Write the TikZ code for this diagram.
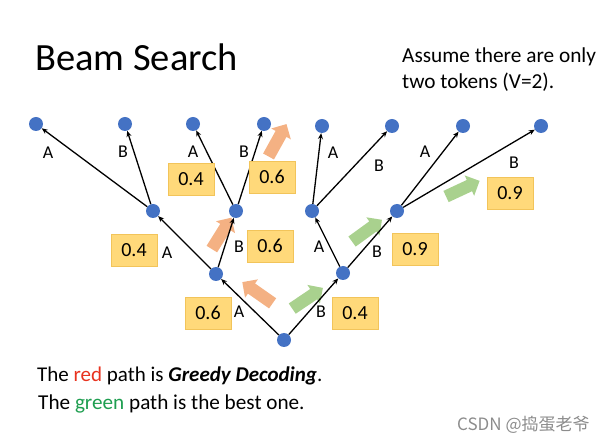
\documentclass[tikz,border=0pt]{standalone}
\usepackage{fontspec}
\setmainfont{Carlito}
\newfontfamily\cjk{Noto Sans CJK SC}
\usetikzlibrary{arrows.meta,shapes.arrows}
\definecolor{bs-dot}{HTML}{4472C4}
\definecolor{bs-box}{HTML}{FFD97A}
\definecolor{bs-boxline}{HTML}{F2C45A}
\definecolor{bs-orange}{HTML}{F4B183}
\definecolor{bs-green}{HTML}{A9D18E}
\definecolor{bs-red}{HTML}{E8321E}
\definecolor{bs-greentext}{HTML}{1E9E50}

\begin{document}
\begin{tikzpicture}[x=1pt,y=-1pt,
  dot/.style={circle, fill=bs-dot, inner sep=0pt, minimum size=14pt},
  edge/.style={line width=1.3pt, -{Stealth[length=6pt,width=5pt]}},
  lbl/.style={font=\fontsize{18}{18}\selectfont, inner sep=0pt},
  prob/.style={fill=bs-box, draw=bs-boxline, line width=0.8pt, minimum width=46pt, minimum height=32pt, inner sep=0pt, font=\fontsize{20}{20}\selectfont},
  fatarrow/.style={single arrow, draw=none, inner sep=6pt, single arrow head extend=5pt, single arrow head indent=0pt, minimum height=37pt}]
\useasboundingbox (0,0) rectangle (608,443);

% block arrows
\node[fatarrow, fill=bs-orange, rotate=145] (o1) at (260,294.5) {};
\node[fatarrow, fill=bs-orange, rotate=58] (o2) at (220,236) {};
\node[fatarrow, fill=bs-orange, rotate=61] (o3) at (276,143) {};
\node[fatarrow, fill=bs-green, rotate=34] (g1) at (305,300) {};
\node[fatarrow, fill=bs-green, rotate=36] (g2) at (364.5,232.5) {};
\node[fatarrow, fill=bs-green, rotate=25] (g3) at (460,190) {};

% tree
\node[dot] (r) at (284,340) {};
\node[dot] (a) at (216,274) {};
\node[dot] (b) at (343,273) {};
\node[dot] (aa) at (153,211) {};
\node[dot] (ab) at (236,211) {};
\node[dot] (ba) at (312,211) {};
\node[dot] (bb) at (397,211) {};
\node[dot] (aaa) at (36,124) {};
\node[dot] (aab) at (125,124) {};
\node[dot] (aba) at (193,124) {};
\node[dot] (abb) at (264,124) {};
\node[dot] (baa) at (322,126) {};
\node[dot] (bab) at (392,126) {};
\node[dot] (bba) at (463,126) {};
\node[dot] (bbb) at (541,126) {};

\draw[edge] (r) -- (a);
\draw[edge] (r) -- (b);
\draw[edge] (a) -- (aa);
\draw[edge] (a) -- (ab);
\draw[edge] (b) -- (ba);
\draw[edge] (b) -- (bb);
\draw[edge] (aa) -- (aaa);
\draw[edge] (aa) -- (aab);
\draw[edge] (ab) -- (aba);
\draw[edge] (ab) -- (abb);
\draw[edge] (ba) -- (baa);
\draw[edge] (ba) -- (bab);
\draw[edge] (bb) -- (bba);
\draw[edge] (bb) -- (bbb);

% token labels
\node[lbl] (la) at (239,312) {A};
\node[lbl] (lb) at (321,312) {B};
\node[lbl] (laa) at (167,253) {A};
\node[lbl] (lab) at (239,247) {B};
\node[lbl] (lba) at (319,247) {A};
\node[lbl] (lbb) at (377,252) {B};
\node[lbl] (laaa) at (48,153) {A};
\node[lbl] (laab) at (123,152) {B};
\node[lbl] (laba) at (193,152) {A};
\node[lbl] (labb) at (244,152) {B};
\node[lbl] (lbaa) at (333,153) {A};
\node[lbl] (lbab) at (379,166) {B};
\node[lbl] (lbba) at (425,152) {A};
\node[lbl] (lbbb) at (514,163) {B};

% probabilities
\node[prob] (pa) at (208,313) {0.6};
\node[prob] (pb) at (355,313) {0.4};
\node[prob] (paa) at (134,250) {0.4};
\node[prob] (pab) at (270,246) {0.6};
\node[prob] (pbb) at (415,249) {0.9};
\node[prob] (paba) at (191,179) {0.4};
\node[prob] (pabb) at (272,177) {0.6};
\node[prob] (pbbb) at (510,193) {0.9};

% texts
\node[anchor=base west, inner sep=0pt, font=\fontsize{38.5}{38}\selectfont] (title) at (35,71) {Beam Search};
\node[anchor=north west, inner sep=0pt, align=left, font=\fontsize{21.3}{26}\selectfont] (note) at (402,48) {Assume there are only\\two tokens (V=2).};
\node[anchor=base west, inner sep=0pt, font=\fontsize{21}{21}\selectfont] (greedy) at (37,382) {The \textcolor{bs-red}{red} path is \textbf{\textit{Greedy Decoding}}.};
\node[anchor=base west, inner sep=0pt, font=\fontsize{21.2}{21}\selectfont] (best) at (38,410) {The \textcolor{bs-greentext}{green} path is the best one.};
\node[anchor=base west, inner sep=0pt, text=black!45, font=\fontsize{17}{17}\cjk] (mark) at (457,431) {CSDN @捣蛋老爷};
\end{tikzpicture}
\end{document}
